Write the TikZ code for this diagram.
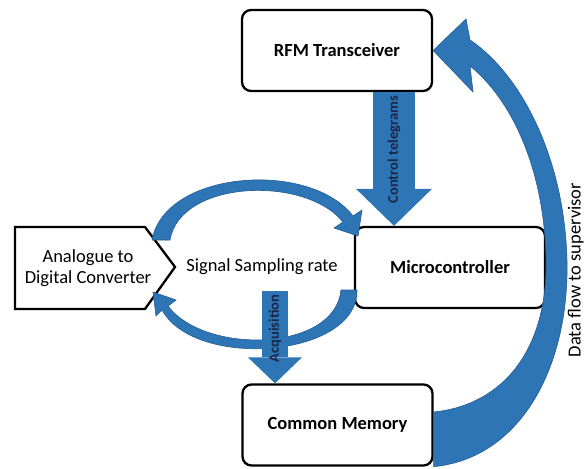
\documentclass[tikz,border=0pt]{standalone}
\usepackage{fontspec}
\setmainfont{Carlito}
\usetikzlibrary{arrows.meta,calc}
\definecolor{arrblue}{RGB}{46,117,182}
\definecolor{arredge}{RGB}{36,92,148}
\definecolor{lblnavy}{RGB}{28,38,70}

\begin{document}
\begin{tikzpicture}[x=1pt,y=-1pt,
  unit/.style={draw, line width=2.3pt, rounded corners=9pt, fill=white,
               minimum width=190pt, minimum height=81pt,
               font=\fontsize{18.5}{22}\selectfont\bfseries},
  plain/.style={font=\fontsize{18.5}{21}\selectfont},
  blk/.style={fill=arrblue, draw=arredge, line width=0.6pt},
  fat/.style={draw=arrblue, line width=#1},
  lbl/.style={rotate=90, text=lblnavy, font=\fontsize{14.5}{16}\selectfont\bfseries}]
\useasboundingbox (0,0) rectangle (585,468);
%
             \node [unit] at (337,50.5) (rfm) {RFM Transceiver};
              \node [unit] at (450,267.5) (micro) {Microcontroller};
                   \node [unit] at (337.5,425) (mem) {Common Memory};
\draw[line width=2.3pt, fill=white] (15,227) -- (145,227) -- (175,267) -- (145,309) -- (15,309) -- cycle;
                       \node [plain, align=center] at (88,268) (adc) {Analogue to\\Digital Converter};
                        \node [plain] at (262,267) (samp) {Signal Sampling rate};
                        \node [plain, rotate=90, anchor=base] at (580.5,270) (sup) {Data flow to supervisor};
                          \coordinate (ctl) at (394,0);
                           \coordinate (acq) at (275,0);
%
\draw[fat=42pt, -{Triangle[length=37pt,width=76pt,line width=0pt]}] (rfm.south -| ctl) -- node[lbl, pos=.43] {Control telegrams} (micro.north -| ctl);
% sampling loop
\filldraw[blk] (152,240) .. controls (165,170) and (310,160) .. (353,216) -- (362,210) -- (358,236) -- (334,228) -- (343,222) .. controls (305,175) and (180,180) .. (170,240) -- cycle;
\filldraw[blk] (357,290) .. controls (358,358) and (195,370) .. (162,310) -- (156,316) -- (153,292) -- (176,300) -- (168,306) .. controls (205,355) and (335,352) .. (341,290) -- cycle;
\draw[fat=26pt, -{Triangle[length=26pt,width=54pt,line width=0pt]}] ($(samp.south -| acq)+(0,12)$) -- node[lbl, pos=.41] {Acquisition} (mem.north -| acq);
% data flow
\filldraw[blk] (mem.south east) .. controls (522,458) and (569,365) .. (567,262) .. controls (565,160) and (522,75) .. (470,40) -- (466,19) -- (rfm.east) -- (473,92) -- (470,66) .. controls (512,100) and (545,170) .. (546,262) .. controls (547,350) and (503,405) .. ($(mem.east)+(0,-13)$) -- cycle;
\end{tikzpicture}
\end{document}
